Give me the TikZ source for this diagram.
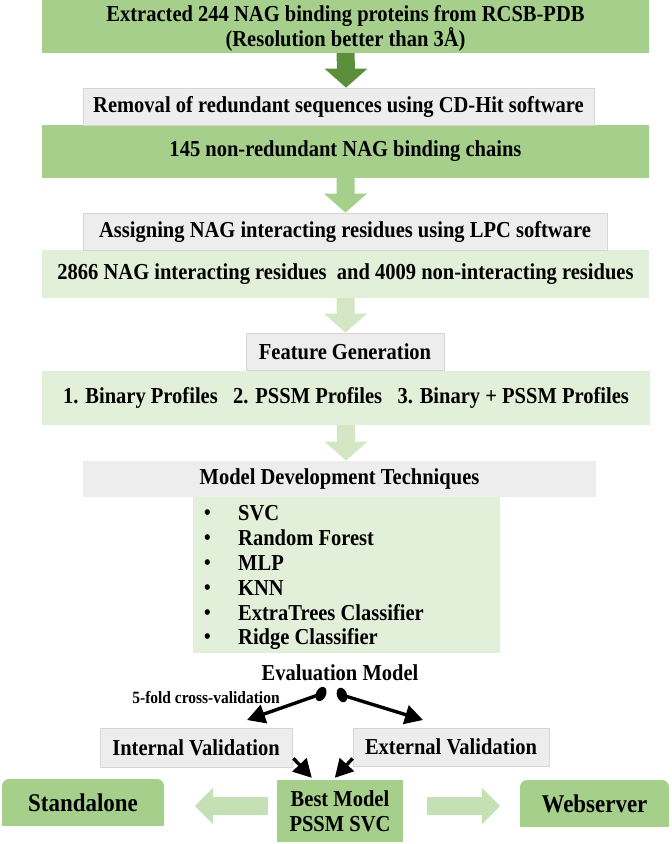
\documentclass[tikz,border=0pt]{standalone}
\usepackage{fontspec}
\setmainfont{Liberation Serif}[FakeStretch=0.9]
\usetikzlibrary{arrows.meta,calc,shapes.geometric}
\definecolor{midg}{HTML}{A6CF8C}
\definecolor{lightg}{HTML}{E2EFD9}
\definecolor{greyf}{HTML}{EDEDED}
\definecolor{greyd}{HTML}{D6D6D6}
\definecolor{darkarr}{HTML}{5B8F3B}
\definecolor{arrB}{HTML}{A6CF8C}
\definecolor{arrC}{HTML}{D3E7C5}
\definecolor{arrS}{HTML}{C5E0B4}
\begin{document}
\begin{tikzpicture}[x=1pt,y=-1pt,
  txt/.style={inner sep=0pt, font=\fontsize{22.8}{25}\selectfont\bfseries, align=center},
  gbox/.style={txt, fill=greyf, draw=greyd, line width=0.8pt},
  mbox/.style={txt, fill=midg},
  lbox/.style={txt, fill=lightg},
  item/.style={inner sep=0pt, anchor=base west, font=\fontsize{22.8}{25}\selectfont\bfseries},
  blk/.style={line width=3.4pt, -{Triangle[length=18pt,width=19pt]}},
  knob/.style={ellipse, fill=black, inner sep=0pt, minimum width=10pt, minimum height=15pt}
]
\useasboundingbox (0,0) rectangle (672,844);

% boxes
\node[mbox, minimum width=607, minimum height=53] (b1) at (345.5,26.5)
  {\rule{0pt}{19pt}Extracted 244 NAG binding proteins from RCSB-PDB\\(Resolution better than 3Å)};
\node[mbox, minimum width=607, minimum height=53] (b3) at (345.5,151.5)
  {145 non-redundant NAG binding chains};
\node[gbox, minimum width=511, minimum height=37] (b2) at (338.5,106.5)
  {Removal of redundant sequences using CD-Hit software};
\node[lbox, minimum width=607, minimum height=48] (b5) at (345.5,274)
  {2866 NAG interacting residues\ \ and 4009 non-interacting residues};
\node[gbox, minimum width=524, minimum height=37] (b4) at (345,231.5)
  {Assigning NAG interacting residues using LPC software};
\node[lbox, minimum width=608, minimum height=54] (b7) at (346,398)
  {1. Binary Profiles\ \ \ 2. PSSM Profiles\ \ \ 3. Binary + PSSM Profiles};
\node[gbox, minimum width=198, minimum height=37] (b6) at (345,351.5)
  {Feature Generation};
\node[lbox, minimum width=307, minimum height=156] (b9) at (346.5,575) {};
\node[gbox, minimum width=513, minimum height=36, draw=none] (b8) at (339.5,479)
  {Model Development Techniques};

% list
\foreach \t/\yy [count=\i] in {SVC/513, Random Forest/538, MLP/563, KNN/588, ExtraTrees Classifier/613, Ridge Classifier/637}{
  \node[item, font=\fontsize{21}{24}\selectfont\bfseries] (bul\i) at (204,\yy+6) {•};
  \node[item] (it\i) at (238,\yy+7) {\t};
}

% block arrows
\fill[darkarr] ($(b1.south)+(-9,0)$) -- ($(b1.south)+(9,0)$) -- ($(b2.north)+(16.5,-19)$)
  -- ($(b2.north)+(29,-19)$) -- ($(b2.north)+(7.5,0)$) -- ($(b2.north)+(-14,-19)$)
  -- ($(b2.north)+(-1.5,-19)$) -- cycle;
\foreach \s/\t/\c in {b3/b4/arrB, b5/b6/arrC, b7/b8/arrC}{
  \fill[\c] ($(\s.south)+(-9,0)$) coordinate (p1) -- ($(\s.south)+(9,0)$) coordinate (p2)
    -- (p2 |- {$(\t.north)+(0,-19)$}) -- ($(p2 |- {$(\t.north)+(0,-19)$})+(12.5,0)$)
    -- ($(\s.south |- \t.north)$) -- ($(p1 |- {$(\t.north)+(0,-19)$})+(-12.5,0)$)
    -- (p1 |- {$(\t.north)+(0,-19)$}) -- cycle;
}

% evaluation
\node[txt] (ev) at (340,673) {Evaluation Model};
\node[knob, rotate=-25] (kl) at (321,694) {};
\node[knob, rotate=20] (kr) at (342,695) {};
\node[inner sep=0pt, font=\fontsize{17.2}{20}\selectfont\bfseries] (cv) at (206,698) {5-fold cross-validation};
\node[gbox, minimum width=192, minimum height=39] (intv) at (196,747.5) {Internal Validation};
\node[gbox, minimum width=196, minimum height=38] (extv) at (451,747) {External Validation};
\coordinate (tl) at (247,720);
\coordinate (tr) at (423,720);
\draw[blk] (kl.center) -- (tl);
\draw[blk] (kr.center) -- (tr);

% best model
\node[mbox, minimum width=126, minimum height=62] (best) at (340,811) {Best Model\\PSSM SVC};
\draw[blk] ($(intv.south east)+(1,-9)$) -- ($(best.north west)+(35,-2)$);
\draw[blk] ($(extv.south west)+(0,-8)$) -- ($(best.north west)+(58,-2)$);

% standalone / webserver
\node[mbox, minimum width=162, minimum height=47, rounded corners=7pt] (sa) at (83,802.5) {};
\fill[midg] (sa.west) rectangle (sa.south east);
\node[txt, font=\fontsize{25.5}{28}\selectfont\bfseries] (sat) at (sa.center) {Standalone};
\node[mbox, minimum width=149, minimum height=47, rounded corners=7pt] (ws) at (594.5,803.5) {};
\fill[midg] (ws.west) rectangle (ws.south east);
\node[txt, font=\fontsize{25.5}{28}\selectfont\bfseries] (wst) at (ws.center) {Webserver};

% side arrows
\fill[arrS] ($(best.west)+(-9,-14)$) -- ($(best.west)+(-64,-14)$) -- ($(best.west)+(-64,-23)$)
  -- ($(best.west)+(-82,-5)$) -- ($(best.west)+(-64,13)$) -- ($(best.west)+(-64,4)$)
  -- ($(best.west)+(-9,4)$) -- cycle;
\fill[arrS] ($(best.east)+(24,-14)$) -- ($(best.east)+(79,-14)$) -- ($(best.east)+(79,-23)$)
  -- ($(best.east)+(97,-5)$) -- ($(best.east)+(79,13)$) -- ($(best.east)+(79,4)$)
  -- ($(best.east)+(24,4)$) -- cycle;
\end{tikzpicture}
\end{document}
